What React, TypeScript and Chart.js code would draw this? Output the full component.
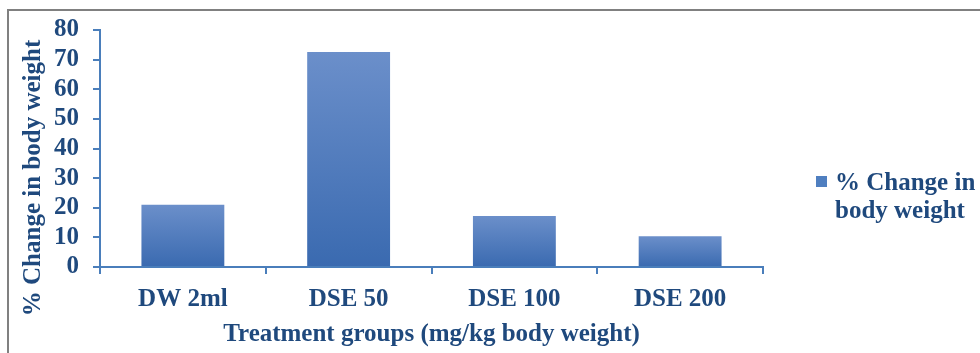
import React, { useEffect, useRef } from "react";
import { Chart, registerables } from "chart.js";

Chart.register(...registerables);

// Treatment groups and the measured % change in body weight
const groups = ["DW 2ml", "DSE 50", "DSE 100", "DSE 200"];
const changeInWeight = [21.0, 72.6, 17.2, 10.4];
const seriesLabel = "% Change in body weight";
const legendLines = ["% Change in", "body weight"];
const xTitle = "Treatment groups (mg/kg body weight)";
const yTitle = "% Change in body weight";
const yMin = 0;
const yMax = 80;
const yStep = 10;

const FAMILY = "'Liberation Serif', 'Times New Roman', serif";
const TEXT = "#1F497D";
const AXIS = "#4A7EBB";
const BAR_TOP = "#6B8FCA";
const BAR_BOTTOM = "#3A6AB0";
const SWATCH = "#4F7FC0";

// Rotated y-axis title and a two-line legend on the right
const sideText = {
  id: "sideText",
  afterDraw(chart: any) {
    const { ctx, chartArea } = chart;
    ctx.save();
    ctx.fillStyle = TEXT;
    ctx.font = `bold 25px ${FAMILY}`;
    ctx.textAlign = "center";
    ctx.textBaseline = "middle";
    ctx.translate(34, 178);
    ctx.rotate(-Math.PI / 2);
    ctx.fillText(yTitle, 0, 0);
    ctx.restore();

    ctx.save();
    const boxX = chartArea.right + 53;
    ctx.fillStyle = SWATCH;
    ctx.fillRect(boxX, 176, 11, 11);
    ctx.fillStyle = TEXT;
    ctx.font = `bold 25px ${FAMILY}`;
    ctx.textAlign = "left";
    ctx.textBaseline = "middle";
    legendLines.forEach((line, i) => {
      ctx.fillText(line, boxX + 19, 184 + i * 28);
    });
    ctx.restore();
  },
};

function barFill(context: any) {
  const chart = context.chart;
  const { chartArea, scales } = chart;
  if (!chartArea || !scales.y) return BAR_BOTTOM;
  const v = context.raw as number;
  const top = scales.y.getPixelForValue(v);
  const bottom = scales.y.getPixelForValue(0);
  if (!isFinite(top) || !isFinite(bottom) || top === bottom) return BAR_BOTTOM;
  const g = chart.ctx.createLinearGradient(0, top, 0, bottom);
  g.addColorStop(0, BAR_TOP);
  g.addColorStop(1, BAR_BOTTOM);
  return g;
}

export default function App() {
  const canvasRef = useRef<HTMLCanvasElement>(null);

  useEffect(() => {
    if (!canvasRef.current) return;
    const chart = new Chart(canvasRef.current, {
      type: "bar",
      data: {
        labels: groups,
        datasets: [
          {
            label: seriesLabel,
            data: changeInWeight,
            backgroundColor: barFill,
            borderWidth: 0,
            categoryPercentage: 1,
            barPercentage: 0.5,
          },
        ],
      },
      options: {
        animation: false,
        responsive: true,
        maintainAspectRatio: false,
        layout: { padding: { left: 0, right: 217, top: 30, bottom: 0 } },
        plugins: {
          legend: { display: false },
          tooltip: { enabled: false },
        },
        scales: {
          x: {
            grid: {
              drawOnChartArea: false,
              drawTicks: true,
              tickLength: 7,
              color: AXIS,
              lineWidth: 2,
            },
            border: { display: true, color: AXIS, width: 2 },
            ticks: {
              color: TEXT,
              font: { family: FAMILY, size: 25, weight: "bold" },
              padding: 11,
              maxRotation: 0,
            },
            title: {
              display: true,
              text: xTitle,
              color: TEXT,
              font: { family: FAMILY, size: 25, weight: "bold" },
              padding: { top: 0, bottom: 3 },
            },
            afterFit(scale: any) {
              scale.height = 86;
            },
          },
          y: {
            min: yMin,
            max: yMax,
            grid: {
              drawOnChartArea: false,
              drawTicks: true,
              tickLength: 7,
              color: AXIS,
              lineWidth: 2,
            },
            border: { display: true, color: AXIS, width: 2 },
            ticks: {
              stepSize: yStep,
              autoSkip: false,
              color: TEXT,
              font: { family: FAMILY, size: 25, weight: "bold" },
              padding: 14,
            },
            afterFit(scale: any) {
              scale.width = 100;
            },
          },
        },
      },
      plugins: [sideText],
    });
    return () => chart.destroy();
  }, []);

  return (
    <div
      style={{
        position: "fixed",
        left: 0,
        top: 0,
        width: 980,
        height: 353,
        background: "#ffffff",
        overflow: "hidden",
      }}
    >
      <div
        style={{
          position: "absolute",
          left: 7,
          top: 9,
          width: 1000,
          height: 400,
          borderLeft: "2px solid #808080",
          borderTop: "2px solid #808080",
        }}
      />
      <div style={{ position: "absolute", left: 0, top: 0, width: 980, height: 353 }}>
        <canvas ref={canvasRef} />
      </div>
    </div>
  );
}
